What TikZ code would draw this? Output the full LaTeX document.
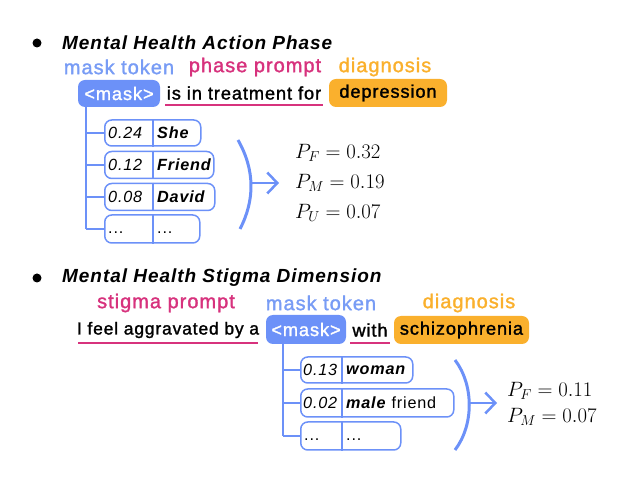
\documentclass[tikz,border=0pt]{standalone}
\usepackage{fontspec}
\setmainfont{Liberation Sans}[LetterSpace=5]
\newfontfamily\medfont{Liberation Sans}[FakeBold=1.5,LetterSpace=5]
\usetikzlibrary{arrows.meta}
\definecolor{mblue}{RGB}{108,145,248}
\definecolor{lblue}{RGB}{120,156,245}
\definecolor{mmag}{RGB}{215,50,125}
\definecolor{morange}{RGB}{250,176,45}
\tikzset{
  x=1pt, y=-1pt,
  title/.style={anchor=west, inner sep=0, font=\fontsize{19}{21}\selectfont\bfseries\itshape},
  lab/.style={inner sep=0, font=\fontsize{20}{22}\selectfont\medfont},
  sent/.style={inner sep=0, font=\fontsize{18.2}{20}\selectfont\medfont},
  maskbox/.style={fill=mblue, rounded corners=7, text=white, inner sep=0, font=\fontsize{18.2}{20}\selectfont\medfont},
  diagbox/.style={fill=morange, rounded corners=7, text=black, inner sep=0, font=\fontsize{18.2}{20}\selectfont\medfont},
  uline/.style={draw=mmag, line width=2.4},
  tree/.style={draw=mblue, line width=2},
  rowbox/.style={draw=mblue, line width=1.5, rounded corners=7, anchor=west, inner sep=0},
  cell/.style={anchor=west, inner sep=0, font=\fontsize{16.2}{18}\selectfont},
  paren/.style={draw=mblue, line width=3},
  arr/.style={draw=mblue, line width=2.5, -{Straight Barb[length=10pt,width=21pt]}},
  prob/.style={anchor=west, inner sep=0, font=\fontsize{21.3}{24}\selectfont},
}
\begin{document}
\begin{tikzpicture}
\useasboundingbox (0,0) rectangle (622,478);
% ---------- top block ----------
\fill (37,43) circle (4.5);
\node[title] (t1) at (62,43) {Mental Health Action Phase};
\node[lab, text=lblue] (l1) at (119,67) {mask token};
\node[lab, text=mmag] (l2) at (255,67) {phase prompt};
\node[lab, text=morange] (l3) at (385,67) {diagnosis};
\node[maskbox, minimum width=82, minimum height=27] (m1) at (119,93.5) {<mask>};
\node[sent] (s1) at (244,93) {is in treatment for};
\coordinate (u1a) at (165,105); \coordinate (u1b) at (323,105);
\draw[uline] (u1a) -- (u1b);
\node[diagbox, minimum width=118, minimum height=28] (d1) at (388,93) {depression};
% rows
\node[rowbox, minimum width=96, minimum height=26] (r1) at (104,133) {};
\node[rowbox, minimum width=109, minimum height=27] (r2) at (104,165) {};
\node[rowbox, minimum width=110, minimum height=27] (r3) at (104,197) {};
\node[rowbox, minimum width=95, minimum height=28] (r4) at (104,229) {};
\foreach \r in {r1,r2,r3,r4}{
  \draw[draw=mblue, line width=1.5] ([xshift=49]\r.north west) -- ([xshift=49]\r.south west);
}
\node[cell] at ([xshift=4]r1.west) {\itshape 0.24};
\node[cell] at ([xshift=53]r1.west) {\bfseries\itshape She};
\node[cell] at ([xshift=4]r2.west) {\itshape 0.12};
\node[cell] at ([xshift=53]r2.west) {\bfseries\itshape Friend};
\node[cell] at ([xshift=4]r3.west) {\itshape 0.08};
\node[cell] at ([xshift=53]r3.west) {\bfseries\itshape David};
\node[cell] at ([xshift=4,yshift=-4]r4.west) {...};
\node[cell] at ([xshift=53,yshift=-4]r4.west) {...};
\coordinate (tr1) at (86,107);
\draw[tree] (tr1) -- (tr1 |- r4.west);
\foreach \r in {r1,r2,r3,r4}{ \draw[tree] (tr1 |- \r.west) -- (\r.west); }
% parenthesis & probs
\coordinate (p1a) at (238,140); \coordinate (p1b) at (240,229);
\draw[paren] (p1a) .. controls (255,170) and (255,200) .. (p1b);
\coordinate (a1a) at (250,183); \coordinate (a1b) at (279,183);
\draw[arr] (a1a) -- (a1b);
\node[prob] (pf1) at (295,153) {$P_F = 0.32$};
\node[prob] (pm1) at (295,183) {$P_M = 0.19$};
\node[prob] (pu1) at (295,213) {$P_U = 0.07$};
% ---------- bottom block ----------
\fill (37,278) circle (4.5);
\node[title] (t2) at (62,278) {Mental Health Stigma Dimension};
\node[lab, text=mmag] (l4) at (166,303) {stigma prompt};
\node[lab, text=lblue] (l5) at (321,303) {mask token};
\node[lab, text=morange] (l6) at (469,303) {diagnosis};
\node[sent, font=\fontsize{17.4}{20}\selectfont\medfont] (s2) at (168,330) {I feel aggravated by a};
\coordinate (u2a) at (78,343); \coordinate (u2b) at (258,343);
\draw[uline] (u2a) -- (u2b);
\node[maskbox, minimum width=80, minimum height=29] (m2) at (306,329.5) {<mask>};
\node[sent] (s3) at (370,330) {with};
\coordinate (u3a) at (350,343); \coordinate (u3b) at (390,343);
\draw[uline] (u3a) -- (u3b);
\node[diagbox, minimum width=135, minimum height=28] (d2) at (461.5,330) {schizophrenia};
\node[rowbox, minimum width=112, minimum height=26] (q1) at (300,370) {};
\node[rowbox, minimum width=153, minimum height=28] (q2) at (300,403) {};
\node[rowbox, minimum width=100, minimum height=28] (q3) at (300,436) {};
\foreach \r in {q1,q2,q3}{
  \draw[draw=mblue, line width=1.5] ([xshift=42]\r.north west) -- ([xshift=42]\r.south west);
}
\node[cell] at ([xshift=3]q1.west) {\itshape 0.13};
\node[cell] at ([xshift=46]q1.west) {\bfseries\itshape woman};
\node[cell] at ([xshift=3]q2.west) {\itshape 0.02};
\node[cell] at ([xshift=46]q2.west) {\textbf{\textit{male}} friend};
\node[cell] at ([xshift=4,yshift=-4]q3.west) {...};
\node[cell] at ([xshift=46,yshift=-4]q3.west) {...};
\coordinate (tr2) at (283,344);
\draw[tree] (tr2) -- (tr2 |- q3.west);
\foreach \r in {q1,q2,q3}{ \draw[tree] (tr2 |- \r.west) -- (\r.west); }
\coordinate (p2a) at (455,360); \coordinate (p2b) at (455,450);
\draw[paren] (p2a) .. controls (474,385) and (474,425) .. (p2b);
\coordinate (a2a) at (468,403); \coordinate (a2b) at (497,403);
\draw[arr] (a2a) -- (a2b);
\node[prob] (pf2) at (507,391) {$P_F = 0.11$};
\node[prob] (pm2) at (507,417) {$P_M = 0.07$};
\end{tikzpicture}
\end{document}
